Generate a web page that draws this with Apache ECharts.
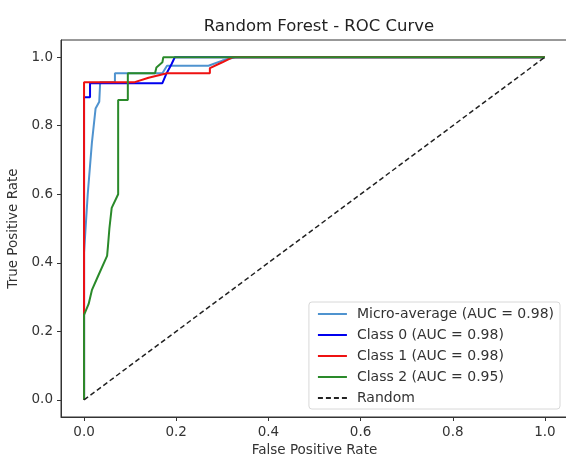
<!DOCTYPE html>
<html>
<head>
<meta charset="utf-8">
<script src="https://cdn.jsdelivr.net/npm/echarts@6/dist/echarts.min.js"></script>
<style>
html, body { margin: 0; padding: 0; background: #fff; }
#main { width: 566px; height: 457px; }
</style>
</head>
<body>
<div id="main"></div>
<script>
// ROC points: [fpr, tpr]
var microAvg = [[0, 0], [0, 0.43], [0.008, 0.6], [0.017, 0.75], [0.025, 0.85], [0.033, 0.87], [0.035, 0.927],
    [0.067, 0.927], [0.067, 0.953], [0.17, 0.953], [0.18, 0.975], [0.27, 0.975], [0.3, 0.99], [0.33, 1], [1, 1]];
var class0 = [[0, 0], [0, 0.883], [0.013, 0.883], [0.013, 0.924], [0.17, 0.924], [0.178, 0.95], [0.19, 0.98], [0.197, 1], [1, 1]];
var class1 = [[0, 0], [0, 0.927], [0.11, 0.927], [0.14, 0.94], [0.18, 0.953], [0.273, 0.953], [0.273, 0.968], [0.3, 0.985], [0.323, 1], [1, 1]];
var class2 = [[0, 0], [0, 0.248], [0.01, 0.28], [0.017, 0.32], [0.03, 0.36], [0.05, 0.42], [0.052, 0.45], [0.055, 0.5],
    [0.06, 0.56], [0.074, 0.6], [0.074, 0.875], [0.095, 0.875], [0.095, 0.953], [0.154, 0.953], [0.157, 0.97],
    [0.17, 0.985], [0.172, 1], [1, 1]];
var randomLine = [[0, 0], [1, 1]];
var tickValues = [0, 0.2, 0.4, 0.6, 0.8, 1.0];
var seriesNames = ['Micro-average (AUC = 0.98)', 'Class 0 (AUC = 0.98)', 'Class 1 (AUC = 0.98)', 'Class 2 (AUC = 0.95)', 'Random'];

var myChart = echarts.init(document.getElementById('main'));
var fontFam = 'DejaVu Sans';

function lineSeries(name, data, color, type, width) {
    return {
        name: name,
        type: 'line',
        data: data,
        symbol: 'none',
        animation: false,
        color: color,
        lineStyle: { color: color, width: width, type: type }
    };
}

var option = {
    backgroundColor: '#fff',
    textStyle: { fontFamily: fontFam },
    title: {
        text: 'Random Forest - ROC Curve',
        left: 314,
        textAlign: 'center',
        top: 13,
        textStyle: { fontFamily: fontFam, fontSize: 16.5, fontWeight: 'normal', color: '#222' }
    },
    legend: {
        data: seriesNames,
        orient: 'vertical',
        right: 6,
        bottom: 48,
        itemWidth: 29,
        itemHeight: 14,
        itemGap: 7,
        itemStyle: { opacity: 0 },
        backgroundColor: '#fff',
        borderColor: '#d8d8d8',
        borderWidth: 1,
        borderRadius: 3,
        padding: [5, 6, 4, 8],
        textStyle: { fontFamily: fontFam, fontSize: 14, color: '#333', padding: [0, 0, 0, 5] }
    },
    grid: {
        left: 61,
        top: 40,
        width: 507,
        height: 377,
        outerBoundsMode: 'none',
        containLabel: false,
        show: true,
        borderColor: '#333',
        borderWidth: 1
    },
    xAxis: {
        type: 'value',
        min: -0.05,
        max: 1.05,
        name: 'False Positive Rate',
        nameLocation: 'middle',
        nameGap: 23,
        nameTextStyle: { fontFamily: fontFam, fontSize: 13.5, color: '#333' },
        splitLine: { show: false },
        axisLine: { onZero: false, lineStyle: { color: '#333' } },
        axisTick: { customValues: tickValues, length: 4, lineStyle: { color: '#333' } },
        axisLabel: {
            customValues: tickValues,
            formatter: function (v) { return v.toFixed(1); },
            fontFamily: fontFam, fontSize: 13.5, color: '#333', margin: 8
        }
    },
    yAxis: {
        type: 'value',
        min: -0.05,
        max: 1.05,
        name: 'True Positive Rate',
        nameLocation: 'middle',
        nameGap: 41,
        nameTextStyle: { fontFamily: fontFam, fontSize: 13.5, color: '#333' },
        splitLine: { show: false },
        axisLine: { onZero: false, lineStyle: { color: '#333' } },
        axisTick: { customValues: tickValues, length: 4, lineStyle: { color: '#333' } },
        axisLabel: {
            customValues: tickValues,
            formatter: function (v) { return v.toFixed(1); },
            fontFamily: fontFam, fontSize: 13.5, color: '#333', margin: 8
        }
    },
    series: [
        lineSeries(seriesNames[0], microAvg, '#4f93cf', 'solid', 2),
        lineSeries(seriesNames[1], class0, '#0000ee', 'solid', 2),
        lineSeries(seriesNames[2], class1, '#ee1111', 'solid', 2),
        lineSeries(seriesNames[3], class2, '#2a8a2a', 'solid', 2),
        lineSeries(seriesNames[4], randomLine, '#222', [5, 3], 1.5)
    ]
};
myChart.setOption(option);
</script>
</body>
</html>
